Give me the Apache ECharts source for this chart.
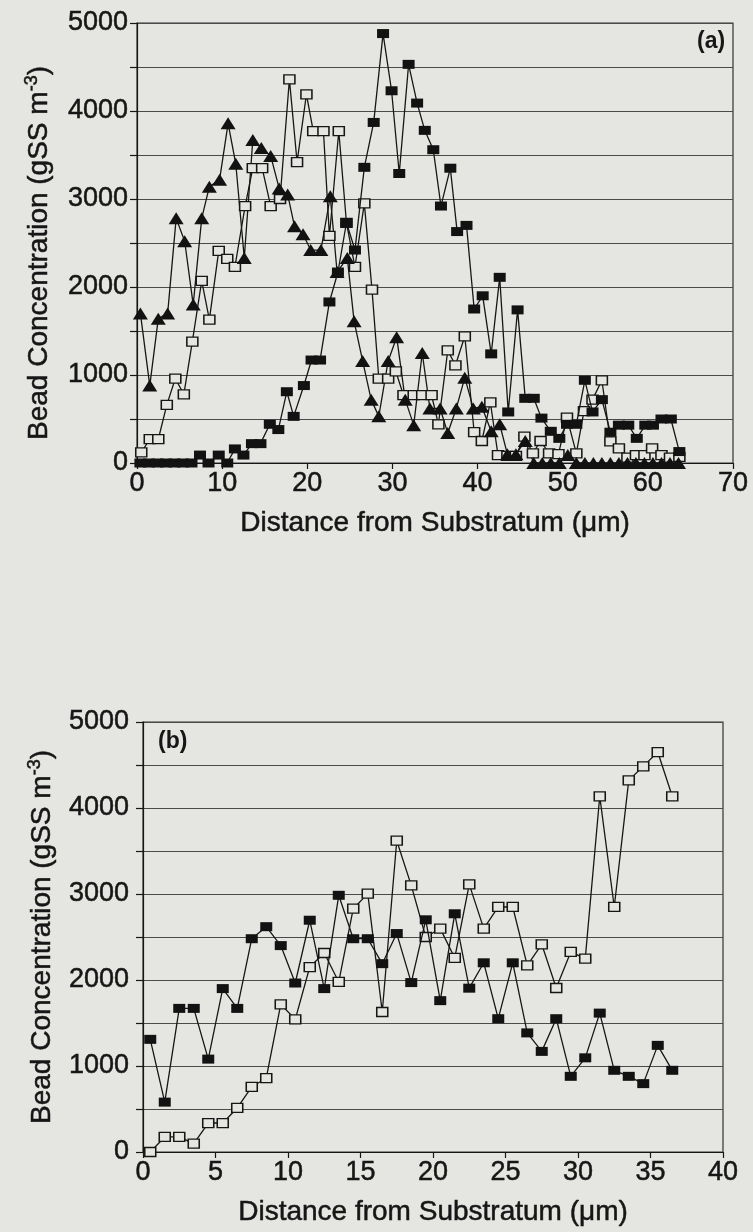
<!DOCTYPE html>
<html>
<head>
<meta charset="utf-8">
<script src="https://cdn.jsdelivr.net/npm/echarts@6/dist/echarts.min.js"></script>
<style>
  html, body { margin: 0; padding: 0; background: #e5e5e2; }
  #chart { width: 753px; height: 1232px; }
</style>
</head>
<body>
<div id="chart"></div>
<script>
// Panel (a): three bead profiles against distance from the substratum
const aSolidX = [0.4,1.4,2.4,3.4,4.4,5.4,6.4,7.4,8.4,9.6, 10.6,11.5,12.5,13.5,14.5, 15.6,16.6,17.6,18.4,19.6,
  20.5,21.5,22.6,23.6,24.6, 25.6,26.7,27.8,28.9,29.9, 30.8,31.9,32.9,33.8,34.8, 35.7,36.8,37.6,38.7,39.6,
  40.6,41.6,42.6,43.6,44.7, 45.6,46.6,47.5,48.6,49.6, 50.5,51.6,52.6,53.5,54.6, 55.6,56.6,57.7,58.7,59.7,
  60.6,61.6,62.7,63.7];
const aSolidY = [0,0,0,0,0,0,0,90,0,90, 0,160,90,220,220, 440,380,810,530,880,
  1170,1170,1830,2170,2730, 2420,3360,3870,4880,4230, 3290,4530,4090,3780,3560, 2920,3350,2630,2700,1750,
  1900,1240,2110,580,1740, 735,735,510,360,280, 440,440,940,580,720, 350,430,430,280,430,
  430,500,500,130];

const aTriX = [0.4,1.5,2.5,3.6,4.6,5.6,6.6,7.6,8.5,9.7, 10.7,11.6,12.6,13.6,14.6, 15.7,16.7,17.7,18.5,19.5,
  20.4,21.6,22.7,23.5,24.7, 25.5,26.5,27.5,28.4,29.5, 30.5,31.5,32.5,33.5,34.4, 35.6,36.5,37.5,38.5,39.5,
  40.5,41.6,42.6,43.5,44.5, 45.6,46.6,47.6,48.6,49.6, 50.6,51.6,52.6,53.6,54.6, 55.6,56.6,57.6,58.6,59.6,
  60.6,61.6,62.6,63.6];
const aTriY = [1700,880,1640,1700,2780,2520,1800,2780,3140,3220, 3860,3400,2330,3670,3580, 3490,3120,3050,2690,2600,
  2420,2420,3030,2170,2330, 1610,1160,720,530,1160, 1430,720,430,1250,620, 620,340,620,970,620,
  640,360,440,100,100, 250,0,0,0,0, 90,0,0,0,0, 0,0,0,0,0,
  0,0,0,0];

const aOpenX = [0.5,1.5,2.5,3.5,4.5,5.5,6.5,7.6,8.5,9.6, 10.6,11.5,12.7,13.6,14.7, 15.7,16.8,17.9,18.8,19.9,
  20.7,21.9,22.6,23.7,24.6, 25.6,26.7,27.6,28.4,29.5, 30.4,31.3,32.5,33.5,34.6, 35.4,36.5,37.4,38.5,39.6,
  40.5,41.5,42.4,43.5,44.5, 45.5,46.5,47.4,48.4,49.5, 50.5,51.6,52.5,53.5,54.6, 55.6,56.6,57.6,58.6,59.6,
  60.5,61.6,62.6,63.7];
const aOpenY = [120,270,270,660,960,780,1380,2070,1630,2410, 2320,2230,2920,3350,3350, 2920,3000,4360,3420,4190,
  3770,3770,2580,3770,2730, 2230,2950,1970,960,960, 1040,770,770,770,770, 440,1280,1110,1440,350,
  250,690,90,80,80, 300,110,250,110,100, 515,110,590,720,940, 245,165,60,90,90,
  165,90,60,70];

// Panel (b): two bead profiles
const bX = [0.5,1.5,2.5,3.5,4.5,5.5,6.5,7.5,8.5,9.5, 10.5,11.5,12.5,13.5,14.5, 15.5,16.5,17.5,18.5,19.5,
  20.5,21.5,22.5,23.5,24.5, 25.5,26.5,27.5,28.5,29.5, 30.5,31.5,32.5,33.5,34.5, 35.5,36.5];
const bSolidY = [1310,580,1670,1670,1080,1900,1670,2480,2620,2400, 1965,2695,1900,2985,2480,
  2480,2190,2540,1970,2700, 1760,2770,1905,2200,1550, 2200,1385,1170,1550,880,
  1095,1615,950,880,795, 1240,950];
const bOpenY = [0,175,175,97,337,337,512,756,860,1717, 1543,2151,2314,1977,2829,
  3004,1628,3620,3100,2500, 2597,2256,3112,2597,2849, 2849,2171,2415,1907,2326,
  2248,4136,2849,4322,4484, 4651,4136];

// Axis ticks
const aXTicks = [0, 10, 20, 30, 40, 50, 60, 70];
const bXTicks = [0, 5, 10, 15, 20, 25, 30, 35, 40];
const yTicks = [0, 1000, 2000, 3000, 4000, 5000];

const BG = '#e5e5e2';
const INK = '#161616';
const FONT = '"Liberation Sans", Arial, Helvetica, sans-serif';

const zip = (xs, ys) => xs.map((x, i) => [x, ys[i]]);

// a thin outline in the ink colour gives the printed-type weight
const heavy = { textBorderColor: INK, textBorderWidth: 0.5 };

const yName = 'Bead Concentration (gSS m{sup|-3})';
function nameStyle(shift) {
  return Object.assign({
    color: INK, fontFamily: FONT, fontSize: 28,
    padding: [0, shift, 0, 0],
    rich: { sup: Object.assign({ fontSize: 18, color: INK, fontFamily: FONT, padding: [0, 0, 15, 0] }, heavy) }
  }, heavy);
}

function xAxisFor(grid, ticks, gap) {
  const step = ticks[1] - ticks[0];
  return {
    type: 'value', gridIndex: grid,
    min: ticks[0], max: ticks[ticks.length - 1], interval: step,
    name: 'Distance from Substratum (\u03bcm)', nameLocation: 'middle', nameGap: gap,
    nameTextStyle: Object.assign({ color: INK, fontFamily: FONT, fontSize: 28 }, heavy),
    axisLine: { show: true, onZero: false, lineStyle: { color: INK, width: 1.2 } },
    axisTick: { show: true, inside: false, length: 6, lineStyle: { color: INK, width: 1.2 } },
    axisLabel: Object.assign({ color: INK, fontFamily: FONT, fontSize: 27, margin: 7 }, heavy),
    splitLine: { show: false }
  };
}

function yAxisFor(grid, gap, margin, shift) {
  return {
    type: 'value', gridIndex: grid,
    min: yTicks[0], max: yTicks[yTicks.length - 1], interval: 500,
    name: yName, nameLocation: 'middle', nameGap: gap, nameRotate: 90,
    nameTextStyle: nameStyle(shift),
    axisLine: { show: true, onZero: false, lineStyle: { color: INK, width: 1.2 } },
    axisTick: { show: true, inside: false, length: 7, lineStyle: { color: INK, width: 1.2 } },
    axisLabel: Object.assign({
      color: INK, fontFamily: FONT, fontSize: 27, margin: margin,
      formatter: v => (yTicks.indexOf(v) >= 0 ? String(v) : '')
    }, heavy),
    splitLine: { show: true, lineStyle: { color: '#4a4a4a', width: 1 } }
  };
}

const line = { color: INK, width: 1.3 };

function solidSeries(x, y, data) {
  return { type: 'line', xAxisIndex: x, yAxisIndex: y, data, symbol: 'rect', symbolSize: [12, 9],
    itemStyle: { color: '#121212' }, lineStyle: line, z: 4, animation: false };
}
function openSeries(x, y, data) {
  return { type: 'line', xAxisIndex: x, yAxisIndex: y, data, symbol: 'rect', symbolSize: [11, 9],
    showAllSymbol: true,
    itemStyle: { color: BG, borderColor: INK, borderWidth: 1.4 }, lineStyle: line, z: 3, animation: false };
}
function triSeries(x, y, data) {
  return { type: 'line', xAxisIndex: x, yAxisIndex: y, data, symbol: 'triangle', symbolSize: [15, 12],
    itemStyle: { color: '#121212' }, lineStyle: line, z: 3, animation: false };
}

const chart = echarts.init(document.getElementById('chart'), null, { renderer: 'canvas' });
chart.setOption({
  backgroundColor: BG,
  animation: false,
  grid: [
    { left: 137, right: 20, top: 23, height: 440, show: true, borderColor: '#333', borderWidth: 1.2, backgroundColor: 'transparent' },
    { left: 143, right: 30, top: 722, height: 430, show: true, borderColor: '#333', borderWidth: 1.2, backgroundColor: 'transparent' }
  ],
  xAxis: [xAxisFor(0, aXTicks, 46), xAxisFor(1, bXTicks, 46)],
  yAxis: [yAxisFor(0, 81, 9, 20), yAxisFor(1, 84, 14, 0)],
  series: [
    openSeries(0, 0, zip(aOpenX, aOpenY)),
    triSeries(0, 0, zip(aTriX, aTriY)),
    solidSeries(0, 0, zip(aSolidX, aSolidY)),
    openSeries(1, 1, zip(bX, bOpenY)),
    solidSeries(1, 1, zip(bX, bSolidY))
  ],
  graphic: [
    { type: 'text', left: 697, top: 30, z: 10,
      style: { text: '(a)', fill: INK, font: 'bold 23px ' + FONT } },
    { type: 'text', left: 158, top: 730, z: 10,
      style: { text: '(b)', fill: INK, font: 'bold 23px ' + FONT } }
  ]
});
</script>
</body>
</html>
